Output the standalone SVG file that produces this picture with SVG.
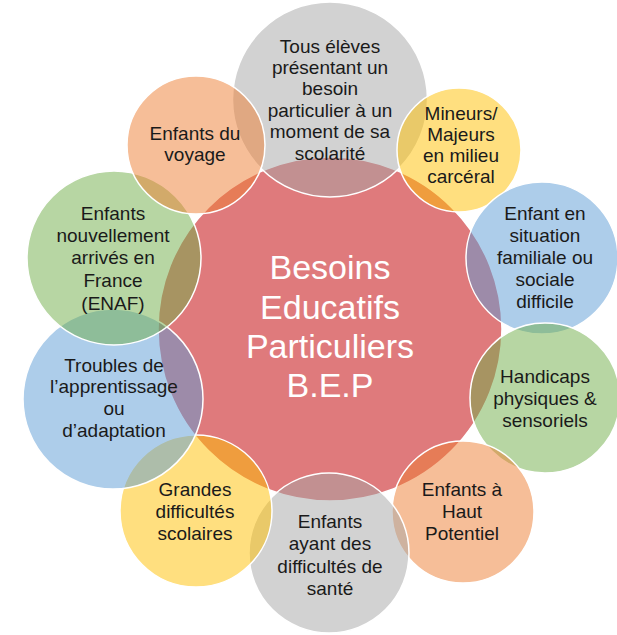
<svg xmlns="http://www.w3.org/2000/svg" width="617" height="635" viewBox="0 0 617 635">
  <style>
    .c { stroke: #ffffff; stroke-width: 1.5; }
    .o { fill-opacity: 0.5; }
    .gray { fill: #A5A5A5; }
    .gold { fill: #FFC000; }
    .blue { fill: #5B9BD5; }
    .green { fill: #70AD47; }
    .orange { fill: #ED7D31; }
    .red { fill: #DF7A7C; }
    .t { font-family: "Liberation Sans", "DejaVu Sans", sans-serif; font-size: 19px; fill: #1a1a1a; text-anchor: middle; }
    .ct { font-family: "Liberation Sans", "DejaVu Sans", sans-serif; font-size: 34px; fill: #ffffff; text-anchor: middle; }
  </style>
  <rect width="617" height="635" fill="#ffffff"/>

  <g id="center">
    <circle class="c red" cx="330" cy="329" r="172"/>
  </g>

  <g id="n-tous">
    <circle class="c o gray" cx="330" cy="99.5" r="97.5"/>
    <text class="t" x="330"><tspan x="330" y="53">Tous élèves</tspan><tspan x="330" y="74">présentant un</tspan><tspan x="330" y="95">besoin</tspan><tspan x="330" y="117">particulier à un</tspan><tspan x="330" y="138">moment de sa</tspan><tspan x="330" y="160">scolarité</tspan></text>
  </g>

  <g id="n-mineurs">
    <circle class="c o gold" cx="459" cy="150" r="62"/>
    <text class="t"><tspan x="461" y="120">Mineurs/</tspan><tspan x="461" y="141">Majeurs</tspan><tspan x="461" y="162">en milieu</tspan><tspan x="461" y="183">carcéral</tspan></text>
  </g>

  <g id="n-situation">
    <circle class="c o blue" cx="542" cy="258" r="76"/>
    <text class="t"><tspan x="545" y="220">Enfant en</tspan><tspan x="545" y="242">situation</tspan><tspan x="545" y="264">familiale ou</tspan><tspan x="545" y="286">sociale</tspan><tspan x="545" y="308">difficile</tspan></text>
  </g>

  <g id="n-handicaps">
    <circle class="c o green" cx="545" cy="398" r="75"/>
    <text class="t"><tspan x="545" y="383">Handicaps</tspan><tspan x="545" y="405">physiques &amp;</tspan><tspan x="545" y="427">sensoriels</tspan></text>
  </g>

  <g id="n-haut-potentiel">
    <circle class="c o orange" cx="463" cy="512" r="71"/>
    <text class="t"><tspan x="462" y="496">Enfants à</tspan><tspan x="462" y="518">Haut</tspan><tspan x="462" y="540">Potentiel</tspan></text>
  </g>

  <g id="n-sante">
    <circle class="c o gray" cx="329" cy="553" r="80"/>
    <text class="t"><tspan x="330" y="528">Enfants</tspan><tspan x="330" y="550">ayant des</tspan><tspan x="330" y="573">difficultés de</tspan><tspan x="330" y="595">santé</tspan></text>
  </g>

  <g id="n-grandes">
    <circle class="c o gold" cx="196" cy="511" r="76"/>
    <text class="t"><tspan x="195" y="496">Grandes</tspan><tspan x="195" y="518">difficultés</tspan><tspan x="195" y="540">scolaires</tspan></text>
  </g>

  <g id="n-troubles">
    <circle class="c o blue" cx="113" cy="399" r="90"/>
    <text class="t"><tspan x="114" y="372">Troubles de</tspan><tspan x="114" y="393">l’apprentissage</tspan><tspan x="114" y="415">ou</tspan><tspan x="114" y="437">d’adaptation</tspan></text>
  </g>

  <g id="n-enaf">
    <circle class="c o green" cx="114" cy="258" r="87"/>
    <text class="t"><tspan x="113" y="220">Enfants</tspan><tspan x="113" y="242">nouvellement</tspan><tspan x="113" y="264">arrivés en</tspan><tspan x="113" y="287">France</tspan><tspan x="113" y="310">(ENAF)</tspan></text>
  </g>

  <g id="n-voyage">
    <circle class="c o orange" cx="196" cy="145" r="69"/>
    <text class="t"><tspan x="195" y="140">Enfants du</tspan><tspan x="195" y="161">voyage</tspan></text>
  </g>

  <g id="center-label">
    <text class="ct"><tspan x="330" y="279">Besoins</tspan><tspan x="330" y="319">Educatifs</tspan><tspan x="330" y="358">Particuliers</tspan><tspan x="330" y="397">B.E.P</tspan></text>
  </g>
</svg>
